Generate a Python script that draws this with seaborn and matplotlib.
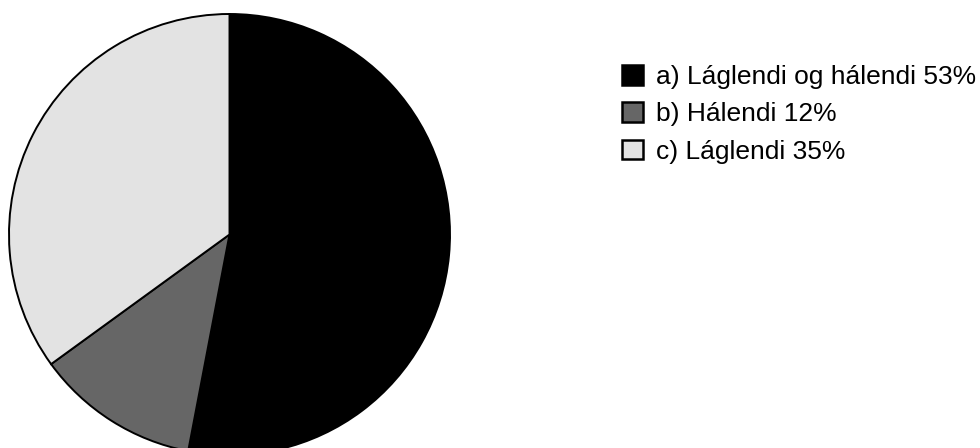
import matplotlib
matplotlib.use("Agg")
import matplotlib.pyplot as plt
from matplotlib.patches import Patch
import seaborn as sns

labels = ["a) Láglendi og hálendi 53%", "b) Hálendi 12%", "c) Láglendi 35%"]
shares = [53, 12, 35]
colors = ["#000000", "#666666", "#e3e3e3"]

sns.set_style("white")
plt.rcParams["font.family"] = ["Liberation Sans", "DejaVu Sans"]
plt.rcParams["text.color"] = "black"

W, H = 980, 448
fig = plt.figure(figsize=(W / 100, H / 100), dpi=100)

# pie axes: centre (229.5, 234.5) px from top-left, radius 220.5 px
cx, cy, r = 229.5, 234.5, 220.5
ax = fig.add_axes([(cx - r) / W, (H - cy - r) / H, 2 * r / W, 2 * r / H])
wedges, _ = ax.pie(shares, colors=colors, startangle=90, counterclock=False,
                   radius=1, wedgeprops=dict(edgecolor="black", linewidth=1.4))
for w in wedges:
    w.set_clip_on(False)
ax.set_xlim(-1, 1)
ax.set_ylim(-1, 1)
ax.set_aspect("equal")
ax.axis("off")

handles = [Patch(facecolor=c, edgecolor="black", linewidth=1.8) for c in colors]
fig.legend(handles, labels, loc="upper left",
           bbox_to_anchor=(622 / W, 1 - 65 / H), frameon=False,
           fontsize=19.0, handlelength=0.78, handleheight=0.78,
           handletextpad=0.5, labelspacing=0.5, borderpad=0, borderaxespad=0,
           labelcolor="black")

fig.savefig("out.png", dpi=100, facecolor="white")
